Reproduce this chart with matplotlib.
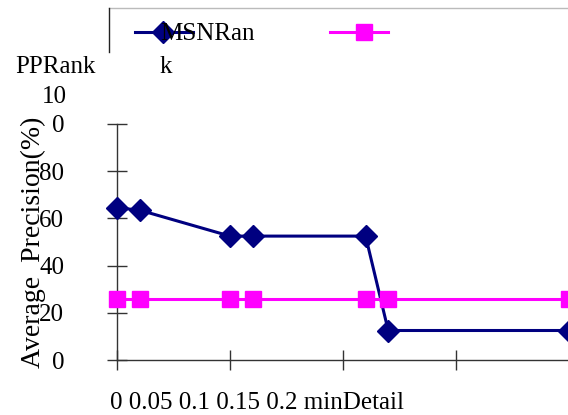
import matplotlib
matplotlib.use('Agg')
import matplotlib.pyplot as plt
from matplotlib.lines import Line2D

plt.rcParams['font.family'] = 'Liberation Serif'

# data
min_detail = [0, 0.01, 0.05, 0.06, 0.11, 0.12, 0.2]
msn_rank = [64.5, 63.5, 52.5, 52.5, 52.5, 12.5, 12.5]
pp_rank = [26, 26, 26, 26, 26, 26, 26]
y_ticks = [0, 20, 40, 60, 80, 100]
y_labels = ['0', '20', '40', '60', '80', '0']
x_ticks = [0, 0.05, 0.1, 0.15, 0.2]
x_text = '0 0.05 0.1 0.15 0.2 minDetail'

W, H = 568, 415
FS = 18


def px(x, y):
    return x / W, 1 - y / H


fig = plt.figure(figsize=(W / 100, H / 100), dpi=100)
l, b = px(117, 360)
r, t = px(569, 124)
ax = fig.add_axes([l, b, r - l, t - b])
ax.set_xlim(0, 0.2)
ax.set_ylim(0, 100)

ax.plot(min_detail, msn_rank, color='#000080', lw=2.2, marker='D', ms=11,
        clip_on=False, zorder=3)
ax.plot(min_detail, pp_rank, color='#FF00FF', lw=2.2, marker='s', ms=12,
        clip_on=False, zorder=4)

for s in ['top', 'right']:
    ax.spines[s].set_visible(False)
for s in ['left', 'bottom']:
    ax.spines[s].set_color('#333333')
    ax.spines[s].set_linewidth(1)
ax.set_yticks(y_ticks)
ax.set_yticklabels(y_labels, fontsize=FS)
ax.set_xticks(x_ticks)
ax.set_xticklabels([])
ax.tick_params(direction='inout', length=14, width=1, color='#333333')
ax.tick_params(axis='y', pad=31)

# stray pieces of text as they sit in the reference
fig.text(*px(67, 103), '10', fontsize=FS, ha='right', va='baseline')
fig.text(*px(110, 409), x_text, fontsize=FS, ha='left', va='baseline')
fig.text(*px(33, 242), 'Average  Precision(%)', fontsize=20, rotation=90,
         ha='center', va='center')
fig.text(*px(15, 73), 'PPRank', fontsize=FS, ha='left', va='baseline')
fig.text(*px(160, 40), 'MSNRan', fontsize=FS, ha='left', va='baseline')
fig.text(*px(160, 73), 'k', fontsize=FS, ha='left', va='baseline')

# legend box remains
fig.add_artist(Line2D([px(109, 0)[0], 1], [px(0, 8)[1]] * 2,
                      transform=fig.transFigure, color='#BBBBBB', lw=1))
fig.add_artist(Line2D([px(109, 0)[0]] * 2, [px(0, 8)[1], px(0, 52)[1]],
                      transform=fig.transFigure, color='#222222', lw=1))
fig.add_artist(Line2D([px(135, 0)[0], px(193, 0)[0]], [px(0, 32)[1]] * 2,
                      transform=fig.transFigure, color='#000080', lw=2.2))
fig.add_artist(Line2D([px(163, 0)[0]], [px(0, 32)[1]], marker='D', ms=11,
                      transform=fig.transFigure, color='#000080'))
fig.add_artist(Line2D([px(330, 0)[0], px(388, 0)[0]], [px(0, 32)[1]] * 2,
                      transform=fig.transFigure, color='#FF00FF', lw=2.2))
fig.add_artist(Line2D([px(364, 0)[0]], [px(0, 32)[1]], marker='s', ms=12,
                      transform=fig.transFigure, color='#FF00FF'))

fig.savefig('out.png', dpi=100)
